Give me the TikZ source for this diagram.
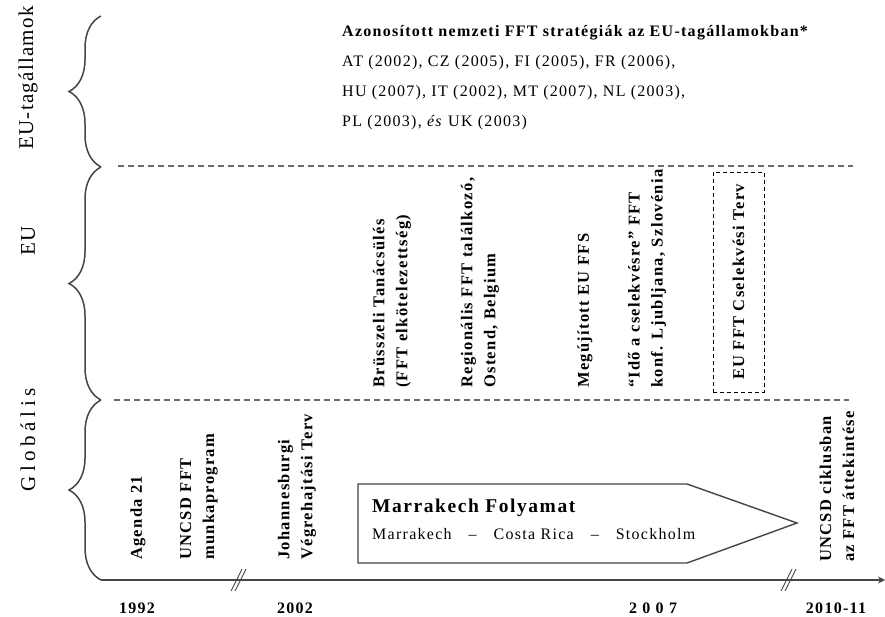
\documentclass[tikz,border=0pt]{standalone}
\usepackage{fontspec}
\setmainfont{Liberation Serif}
\newfontfamily\spaced{Liberation Serif}[LetterSpace=8]
\newfontfamily\lblfont{Liberation Serif}[LetterSpace=6]
\newfontfamily\widelbl{Liberation Serif}[LetterSpace=22]
\usetikzlibrary{decorations.pathreplacing,arrows.meta}
\definecolor{linegray}{HTML}{454545}
\definecolor{dashgray}{HTML}{6A6A6A}
\begin{document}
\begin{tikzpicture}[x=1pt,y=-1pt,
  vtxt/.style={rotate=90, anchor=west, align=left, inner sep=0pt,
    font=\spaced\fontsize{16.5}{23}\selectfont\bfseries},
  sidelbl/.style={rotate=90, inner sep=0pt, font=\lblfont\fontsize{21}{24}\selectfont},
  htxt/.style={anchor=base west, inner sep=0pt, font=\spaced\fontsize{16}{20}\selectfont},
  yearlbl/.style={anchor=base, inner sep=0pt, font=\spaced\fontsize{16}{18}\selectfont\bfseries},
  bracelin/.style={draw=linegray, line width=1.5pt, decorate,
    decoration={brace, amplitude=32pt}},
  sep/.style={draw=dashgray, line width=1.3pt, dash pattern=on 6pt off 4pt},
  brk/.style={draw=linegray, line width=0.9pt}
]
\useasboundingbox (0,0) rectangle (885,617);

% side labels
\node[sidelbl] (lblEUm) at (28,78) {EU-tagállamok};
\node[sidelbl] (lblEU) at (28,241) {EU};
\node[sidelbl, font=\widelbl\fontsize{21}{24}\selectfont] (lblG) at (28,440) {Globális};

% braces
\draw[bracelin] (101,167) -- (101,16);
\draw[bracelin] (101,400) -- (101,167);
\draw[bracelin] (101,580) -- (101,400);

% dashed separators
\draw[sep] (118,166) -- (853,166);
\draw[sep] (114,400) -- (849,400);

% axis
\coordinate (axL) at (101,580);
\coordinate (axR) at (885,580);
\draw[draw=linegray, line width=2.2pt, -{Stealth[length=7pt,width=7pt]}] (axL) -- (axR);
\draw[brk] (231,591) -- (242,569);
\draw[brk] (235,591) -- (246,569);
\draw[brk] (781,591) -- (792,569);
\draw[brk] (785,591) -- (796,569);

% header text
\node[htxt, font=\spaced\fontsize{16}{20}\selectfont\bfseries] (hdr) at (342,37) {Azonosított nemzeti FFT stratégiák az EU-tagállamokban*};
\node[htxt] (row1) at (342,67) {AT (2002), CZ (2005), FI (2005), FR (2006),};
\node[htxt] (row2) at (342,97) {HU (2007), IT (2002), MT (2007), NL (2003),};
\node[htxt] (row3) at (342,127) {PL (2003), \textit{és} UK (2003)};

% EU band
\node[vtxt] (brus) at (392,388) {Brüsszeli Tanácsülés\\(FFT elkötelezettség)};
\node[vtxt] (reg) at (480,388) {Regionális FFT találkozó,\\Ostend, Belgium};
\node[vtxt] (meg) at (585,388) {Megújított EU FFS};
\node[vtxt] (ido) at (647,388) {“Idő a cselekvésre” FFT\\konf. Ljubljana, Szlovénia};
\node[draw=black, line width=0.8pt, dash pattern=on 4pt off 3pt, minimum width=51pt, minimum height=220pt, inner sep=0pt] (box) at (738.5,282) {};
\node[vtxt, anchor=center] (cselt) at (box.center) {EU FFT Cselekvési Terv};

% Global band
\node[vtxt] (ag) at (138,560) {Agenda 21};
\node[vtxt] (uncsd) at (199,560) {UNCSD FFT\\munkaprogram};
\node[vtxt] (joh) at (297,560) {Johannesburgi\\Végrehajtási Terv};
\node[vtxt] (uncsd2) at (837,562) {UNCSD ciklusban\\az FFT áttekintése};

% Marrakech arrow
\draw[draw=linegray, line width=1.4pt, fill=white] (358,484) -- (687,484) -- (797,523) -- (687,563) -- (358,563) -- cycle;
\node[htxt, font=\spaced\fontsize{19.5}{20}\selectfont\bfseries] (marT) at (372,512) {Marrakech Folyamat};
\node[htxt] (marS) at (372,539) {Marrakech\hspace{17pt}–\hspace{17pt}Costa Rica\hspace{17pt}–\hspace{17pt}Stockholm};

% years
\node[yearlbl] (y1) at (137,613) {1992};
\node[yearlbl] (y2) at (295,613) {2002};
\node[yearlbl] (y3) at (653,613) {2\,\,0\,\,0\,\,7};
\node[yearlbl] (y4) at (836,613) {2010-11};
\end{tikzpicture}
\end{document}
